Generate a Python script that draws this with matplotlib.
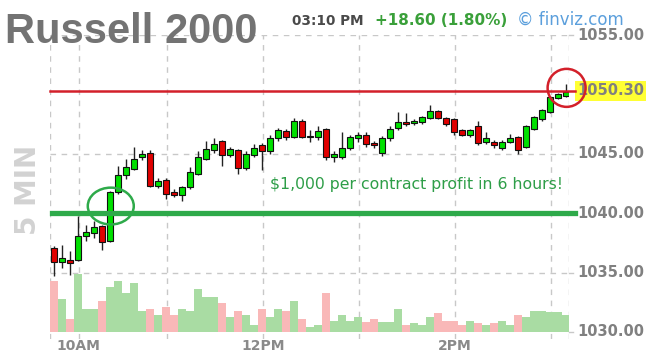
import matplotlib
matplotlib.use("Agg")
import matplotlib.pyplot as plt
from matplotlib.patches import Ellipse, Rectangle
from matplotlib.transforms import blended_transform_factory

# 5 minute bars
opens = [1037.1, 1035.9, 1036.1, 1036.1, 1038.1, 1038.3, 1038.9, 1037.7, 1041.8, 1043.2,
         1043.7, 1044.7, 1045.1, 1042.3, 1042.8, 1041.8, 1041.5, 1042.2, 1043.3, 1044.6,
         1045.3, 1046.1, 1044.9, 1045.3, 1043.8, 1044.9, 1045.7, 1045.2, 1046.3, 1046.9,
         1046.4, 1047.8, 1046.4, 1046.4, 1047.1, 1044.7, 1044.7, 1045.5, 1046.3, 1046.6,
         1045.9, 1045.1, 1046.3, 1047.2, 1047.7, 1047.6, 1047.7, 1048.0, 1048.6, 1048.0,
         1047.9, 1047.0, 1046.6, 1047.3, 1046.0, 1046.0, 1045.5, 1046.0, 1046.4, 1045.6,
         1047.1, 1047.9, 1048.5, 1049.7, 1049.9]
highs = [1037.2, 1037.3, 1036.8, 1039.8, 1039.0, 1039.3, 1039.0, 1041.9, 1044.0, 1044.6,
         1045.6, 1045.3, 1045.3, 1043.0, 1043.0, 1042.0, 1042.3, 1043.9, 1045.2, 1046.1,
         1046.3, 1046.2, 1045.6, 1045.4, 1045.2, 1045.8, 1045.9, 1046.6, 1047.2, 1047.1,
         1048.0, 1047.9, 1047.0, 1047.3, 1047.2, 1045.2, 1046.8, 1046.6, 1046.8, 1046.8,
         1046.1, 1046.5, 1047.3, 1048.5, 1048.4, 1047.9, 1048.2, 1049.1, 1048.7, 1048.1,
         1048.0, 1047.1, 1047.1, 1047.8, 1046.8, 1046.2, 1046.2, 1046.7, 1046.5, 1047.4,
         1048.2, 1048.8, 1049.9, 1050.1, 1050.9]
lows = [1034.7, 1035.4, 1034.8, 1036.0, 1037.7, 1037.9, 1036.9, 1037.6, 1041.6, 1042.9,
        1043.6, 1044.5, 1042.2, 1042.1, 1041.2, 1041.4, 1041.0, 1042.0, 1043.2, 1044.5,
        1045.1, 1044.0, 1044.7, 1043.3, 1043.6, 1044.7, 1043.6, 1045.0, 1046.1, 1046.2,
        1046.3, 1046.3, 1046.0, 1046.2, 1044.5, 1044.3, 1044.6, 1045.3, 1046.0, 1045.6,
        1045.5, 1044.8, 1046.1, 1047.0, 1047.3, 1047.4, 1047.5, 1047.9, 1047.9, 1047.3,
        1046.6, 1046.5, 1046.4, 1045.7, 1045.8, 1045.5, 1045.3, 1045.9, 1045.0, 1045.5,
        1047.0, 1047.8, 1048.4, 1049.6, 1049.8]
closes = [1035.9, 1036.2, 1035.8, 1038.1, 1038.4, 1038.8, 1037.6, 1041.8, 1043.2, 1043.9,
          1044.6, 1045.0, 1042.3, 1042.7, 1041.6, 1041.5, 1042.2, 1043.5, 1044.7, 1045.4,
          1045.8, 1044.9, 1045.4, 1043.8, 1045.0, 1045.5, 1045.2, 1046.3, 1047.0, 1046.4,
          1047.8, 1046.4, 1046.45, 1046.9, 1044.7, 1045.0, 1045.5, 1046.4, 1046.6, 1045.8,
          1045.7, 1046.3, 1047.1, 1047.7, 1047.5, 1047.8, 1048.1, 1048.6, 1048.0, 1047.5,
          1046.8, 1046.6, 1047.0, 1045.9, 1046.3, 1045.7, 1046.0, 1046.3, 1045.3, 1047.3,
          1048.1, 1048.7, 1049.8, 1050.0, 1050.2]
volume = [51, 33, 13, 58, 23, 23, 31, 45, 51, 39, 49, 21, 23, 17, 25, 17, 23, 21, 43, 35,
          35, 29, 15, 21, 17, 7, 23, 15, 23, 21, 31, 13, 5, 7, 39, 11, 17, 11, 15, 10,
          13, 10, 10, 23, 7, 9, 7, 15, 19, 11, 11, 7, 11, 9, 7, 9, 11, 7, 17, 15,
          21, 21, 20, 20, 17]

time_ticks = [3.1, 26.1, 50.1]
time_labels = ["10AM", "12PM", "2PM"]
hour_lines = [3.1, 14.1, 26.1, 38.1, 50.1, 62.1]
price_ticks = [1055, 1045, 1040, 1035, 1030]
last_price = 1050.30
support = 1040.0
breakout_bar = 7

W, H = 648, 352
fig = plt.figure(figsize=(W / 100, H / 100), dpi=100)
fig.patch.set_facecolor("white")
ax = fig.add_axes([50 / W, 12.9 / H, 519 / W, 304.1 / H])
ax.set_xlim(-0.5, 64.4)
ax.set_ylim(1029.4, 1055)
ax.axis("off")

grid = dict(color="#c8c8c8", lw=1, ls=(0, (4, 4)), zorder=0)
for x in hour_lines + [-0.5, 64.4]:
    ax.axvline(x, **grid)
for y in [1055, 1045, 1035]:
    ax.axhline(y, **grid)

# volume on the bottom of the price pane
vol_scale = 1 / 11.88
n = len(closes)
for i in range(n):
    up = closes[i] >= opens[i]
    ax.bar(i, volume[i] * vol_scale, bottom=1030, width=1.0,
           color="#a9dca3" if up else "#f9b8b8", zorder=1)

# candles
for i in range(n):
    up = closes[i] >= opens[i]
    ax.vlines(i, lows[i], highs[i], color="#222222", lw=1, zorder=3)
    lo = min(opens[i], closes[i])
    h = max(abs(closes[i] - opens[i]), 0.08)
    ax.add_patch(Rectangle((i - 0.36, lo), 0.72, h,
                           facecolor="#00e000" if up else "#e00000",
                           edgecolor="#111111", lw=0.8, zorder=4))

ax.plot([-0.5, 65.2], [last_price] * 2, color="#d3202a", lw=1.8,
        clip_on=False, zorder=5)
ax.plot([-0.3, 65.2], [support] * 2, color="#2eaa4a", lw=3.8,
        clip_on=False, zorder=5)
ax.add_patch(Ellipse((breakout_bar + 0.1, support + 0.6), 5.75, 3.1, fill=False,
                     edgecolor="#2eaa4a", lw=1.8, zorder=6))
ax.add_patch(Ellipse((n - 1 + 0.1, last_price + 0.25), 4.75, 3.2, fill=False,
                     edgecolor="#d3202a", lw=1.8, clip_on=False, zorder=6))

ax.text(27.0, 1042.45, "$1,000 per contract profit in 6 hours!", color="#2e9e48",
        fontsize=11.3, ha="left", va="center", zorder=7)

# right price scale
tr = blended_transform_factory(ax.transAxes, ax.transData)
for p in price_ticks:
    ax.plot([1.0, 1.008], [p, p], color="#c8c8c8", lw=1, transform=tr, clip_on=False)
    ax.text(1.016, p, "%.2f" % p, transform=tr, ha="left", va="center",
            fontsize=10.5, fontweight="bold", color="#808080")
ax.text(1.016, last_price, "%.2f" % last_price, transform=tr, ha="left", va="center",
        fontsize=10.5, fontweight="bold", color="#808080",
        bbox=dict(boxstyle="square,pad=0.15", fc="#ffff33", ec="none"))

trx = blended_transform_factory(ax.transData, ax.transAxes)
for x, lab in zip(time_ticks, time_labels):
    ax.text(x, 0.0, lab, transform=trx, ha="center", va="top", fontsize=10,
            fontweight="bold", color="#8a8a8a")

fig.text(5 / W, 1 - 43 / H, "Russell 2000", family="Liberation Sans", fontsize=30,
         fontweight="bold", color="#737373", va="baseline", ha="left")
fig.text(292 / W, 1 - 25 / H, "03:10 PM", fontsize=9.8, fontweight="bold",
         color="#4a4a4a", va="baseline", ha="left")
fig.text(375 / W, 1 - 25 / H, "+18.60 (1.80%)", fontsize=10.9, fontweight="bold",
         color="#3aa03a", va="baseline", ha="left")
fig.text(517 / W, 1 - 25 / H, "\u00a9 finviz.com", fontsize=12,
         color="#5b9fdc", va="baseline", ha="left")
fig.text(28 / W, 1 - 190 / H, "5 MIN", fontsize=20, fontweight="bold",
         color="#d2d2d2", rotation=90, ha="center", va="center")

fig.savefig("out.png", dpi=100)
